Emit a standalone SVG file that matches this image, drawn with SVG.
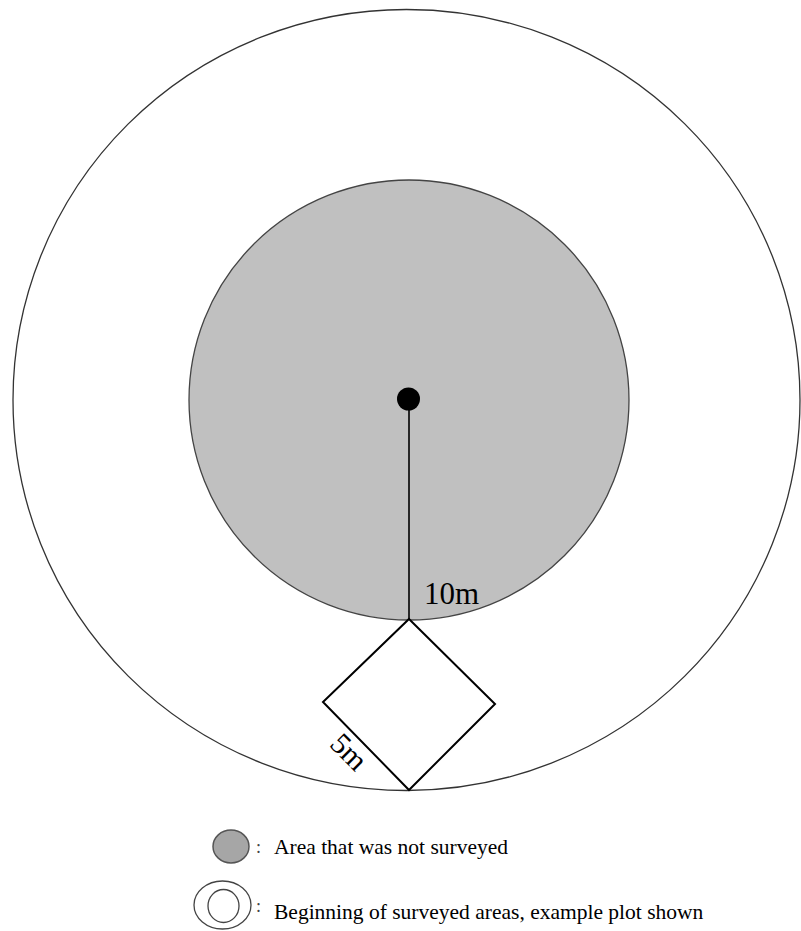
<svg xmlns="http://www.w3.org/2000/svg" width="801" height="931" viewBox="0 0 801 931">
<style>
.lbl{font-family:"Liberation Serif","Times New Roman",serif;fill:#000}
.leg{font-family:"Liberation Serif","Times New Roman",serif;font-size:21.5px;fill:#000}
.col{font-family:"Liberation Serif","Times New Roman",serif;font-size:18px;fill:#444}
</style>
<rect width="801" height="931" fill="#fff"/>
<g id="outer-area">
<ellipse cx="406.5" cy="400" rx="393.5" ry="390.5" fill="#fff" stroke="#333" stroke-width="1.3"/>
</g>
<g id="unsurveyed-area">
<circle cx="409" cy="400" r="220" fill="#c0c0c0" stroke="#444" stroke-width="1.3"/>
</g>
<g id="connectors">
<line x1="409" y1="405" x2="409" y2="619" stroke="#000" stroke-width="1.6"/>
</g>
<g id="center">
<circle cx="408.5" cy="399" r="11.5" fill="#000"/>
</g>
<g id="plot">
<polygon points="409,619 495,704 409,790 323,702" fill="#fff" stroke="#000" stroke-width="2"/>
</g>
<g id="label-10m">
<text class="lbl" x="424" y="604" font-size="31">10m</text>
</g>
<g id="label-5m">
<text class="lbl" font-size="30" text-anchor="middle" transform="translate(342,759) rotate(45)">5m</text>
</g>
<g id="legend-unsurveyed">
<ellipse cx="231" cy="846.5" rx="18" ry="16.5" fill="#a6a6a6" stroke="#555" stroke-width="1.5"/>
<text class="col" x="256" y="853">:</text>
<text class="leg" x="274" y="854">Area that was not surveyed</text>
</g>
<g id="legend-surveyed">
<ellipse cx="222.5" cy="905" rx="28.5" ry="24" fill="#fff" stroke="#444" stroke-width="1.3"/>
<ellipse cx="223.5" cy="906" rx="15.5" ry="16.5" fill="#fff" stroke="#444" stroke-width="1.3"/>
<text class="col" x="256" y="912">:</text>
<text class="leg" x="274" y="919">Beginning of surveyed areas, example plot shown</text>
</g>
</svg>
